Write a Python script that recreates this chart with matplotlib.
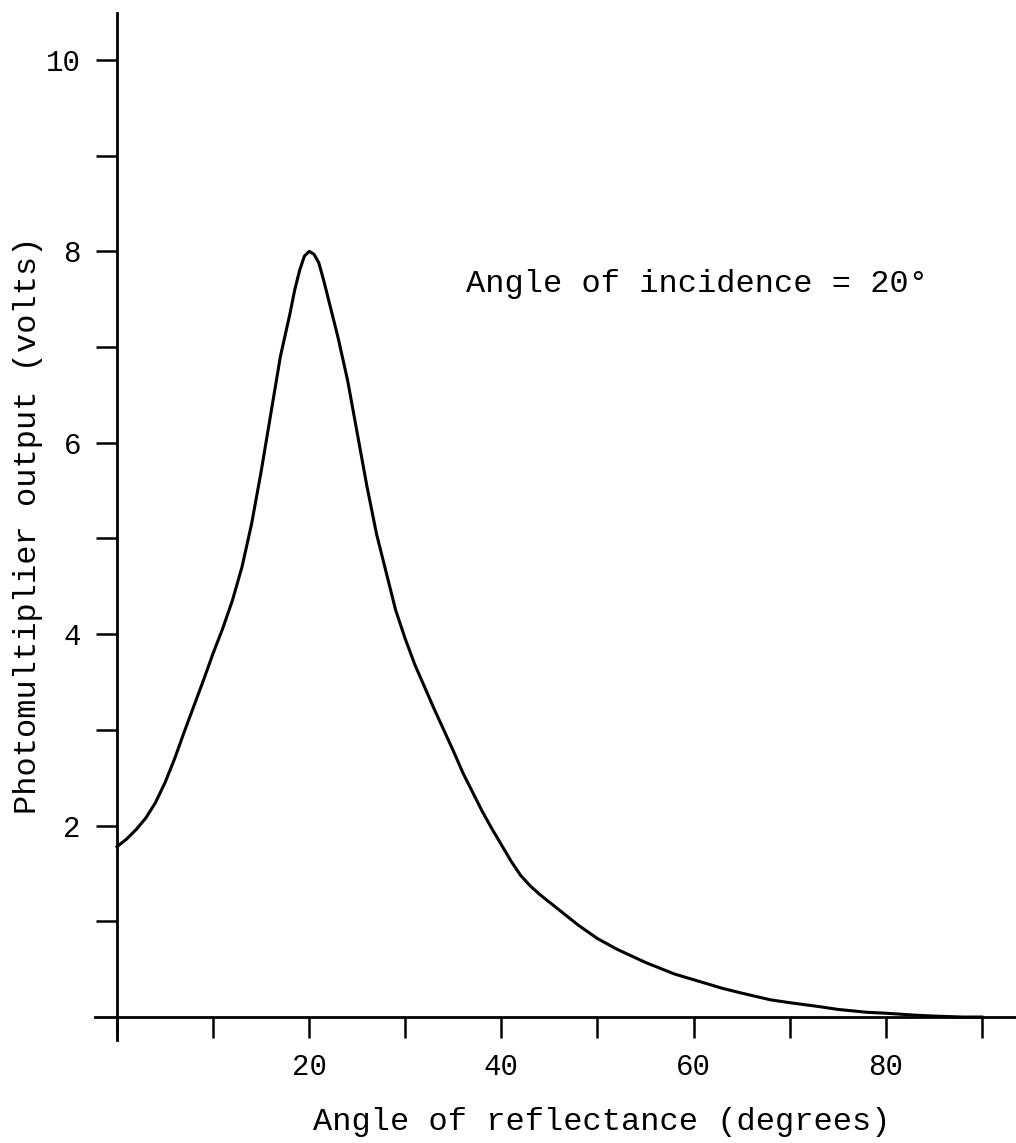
import numpy as np
import matplotlib.pyplot as plt
import matplotlib

# 等宽字体，模仿打字机风格
matplotlib.rcParams['font.family'] = ['Liberation Mono', 'DejaVu Sans Mono']

# 数据
angle = [0, 1, 2, 3, 4, 5, 6, 7, 8, 9, 10, 11, 12, 13, 14, 15, 16, 17, 18, 18.5,
         19, 19.5, 20, 20.5, 21, 21.5, 22, 23, 24, 25, 26, 27, 28, 29, 30, 31, 32,
         33, 34, 35, 36, 37, 38, 39, 40, 41, 42, 43, 44, 45, 46, 48, 50, 52, 55,
         58, 60, 63, 65, 68, 70, 73, 75, 78, 80, 83, 85, 88, 90]
volts = [1.78, 1.86, 1.96, 2.08, 2.24, 2.45, 2.7, 2.98, 3.25, 3.52, 3.8, 4.06,
         4.35, 4.7, 5.15, 5.7, 6.3, 6.9, 7.35, 7.6, 7.8, 7.95, 8.0, 7.97, 7.88,
         7.7, 7.5, 7.1, 6.65, 6.1, 5.55, 5.05, 4.65, 4.25, 3.95, 3.68, 3.45, 3.22,
         3.0, 2.78, 2.55, 2.35, 2.15, 1.97, 1.8, 1.63, 1.48, 1.37, 1.28, 1.2, 1.12,
         0.96, 0.82, 0.71, 0.57, 0.45, 0.39, 0.3, 0.25, 0.18, 0.15, 0.11, 0.08,
         0.05, 0.04, 0.02, 0.01, 0.0, 0.0]

x_ticks = [0, 10, 20, 30, 40, 50, 60, 70, 80, 90]
x_labels = ['', '', '20', '', '40', '', '60', '', '80', '']
y_ticks = [1, 2, 3, 4, 5, 6, 7, 8, 9, 10]
y_labels = ['', '2', '', '4', '', '6', '', '8', '', '10']

fig = plt.figure(figsize=(10.16, 11.43), dpi=100)
ax = fig.add_axes([0.0935, 0.0901, 0.9065, 0.8985])

ax.plot(angle, volts, color='black', linewidth=2.2)

ax.set_xlim(-2.29, 93.55)
ax.set_ylim(-0.24, 10.49)

# 坐标轴交于原点
ax.spines['left'].set_position(('data', 0))
ax.spines['bottom'].set_position(('data', 0))
ax.spines['top'].set_visible(False)
ax.spines['right'].set_visible(False)
for s in ['left', 'bottom']:
    ax.spines[s].set_linewidth(2.0)

ax.set_xticks(x_ticks)
ax.set_xticklabels(x_labels)
ax.set_yticks(y_ticks)
ax.set_yticklabels(y_labels)
ax.tick_params(axis='both', direction='out', length=15, width=1.8,
               labelsize=21, pad=11)

ax.text(36.3, 7.66, 'Angle of incidence = 20°', fontsize=23,
        ha='left', va='center')

fig.text(602 / 1016, 1 - 1122 / 1143, 'Angle of reflectance (degrees)',
         fontsize=23, ha='center', va='center')
fig.text(28 / 1016, 1 - 525 / 1143, 'Photomultiplier output (volts)',
         fontsize=23, ha='center', va='center', rotation=90)

fig.savefig('out.png', dpi=100)
